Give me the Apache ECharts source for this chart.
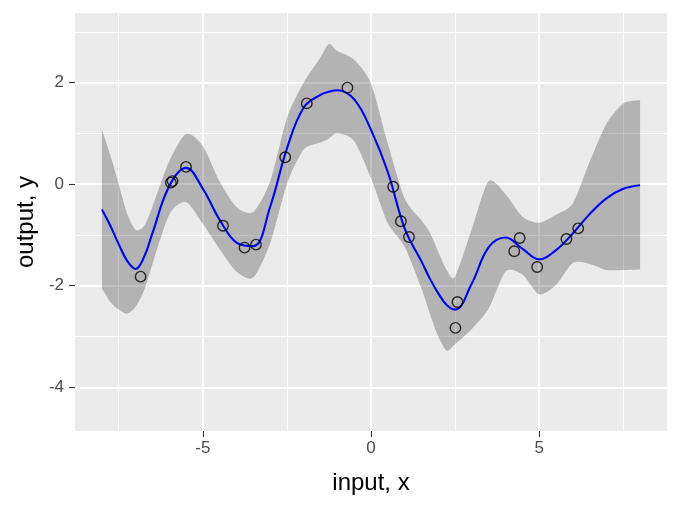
<!DOCTYPE html>
<html><head><meta charset="utf-8">
<script src="https://cdn.jsdelivr.net/npm/echarts@6/dist/echarts.min.js"></script>
<style>html,body{margin:0;padding:0;background:#fff}#c{width:680px;height:510px}</style>
</head><body><div id="c"></div>
<script>
// grid of inputs where the posterior is summarised
const xGrid = [-8, -7.75, -7.5, -7.25, -7, -6.75, -6.5, -6, -5.5, -5, -4.5, -4, -3.5, -3, -2.5, -2, -1.5, -1.25, -1, -0.5, 0, 0.5, 1, 1.5, 1.75, 2, 2.25, 2.5, 3, 3.5, 4, 4.5, 5, 5.5, 6, 6.5, 7, 7.5, 8];
// posterior mean
const meanY = [-0.50, -0.82, -1.18, -1.51, -1.67, -1.44, -0.97, -0.04, 0.32, -0.09, -0.70, -1.15, -1.22, -0.45, 0.70, 1.51, 1.76, 1.82, 1.85, 1.67, 1.07, 0.24, -0.87, -1.52, -1.86, -2.15, -2.38, -2.47, -1.95, -1.24, -1.05, -1.27, -1.48, -1.30, -0.97, -0.59, -0.28, -0.09, -0.02];
// lower and upper band
const lowerY = [-2.05, -2.32, -2.47, -2.55, -2.42, -2.10, -1.58, -0.60, -0.35, -0.78, -1.28, -1.72, -1.84, -1.17, 0.00, 0.68, 0.82, 0.90, 1.00, 0.85, 0.12, -0.77, -1.23, -2.05, -2.55, -3.00, -3.28, -3.15, -2.85, -2.45, -1.72, -1.78, -2.17, -1.98, -1.55, -1.57, -1.69, -1.69, -1.68];
const upperY = [1.08, 0.57, 0.00, -0.58, -0.90, -0.83, -0.45, 0.45, 0.99, 0.75, 0.05, -0.45, -0.55, 0.05, 1.30, 2.00, 2.50, 2.76, 2.62, 2.45, 1.98, 0.80, -0.28, -0.71, -0.95, -1.33, -1.69, -1.82, -0.88, 0.06, -0.20, -0.64, -0.76, -0.60, -0.38, 0.44, 1.19, 1.59, 1.65];
// observations
const obsX = [-6.85, -5.95, -5.90, -5.50, -4.40, -3.76, -3.42, -2.55, -1.91, -0.70, 0.66, 0.89, 1.13, 2.57, 2.51, 4.26, 4.42, 4.94, 5.81, 6.16];
const obsY = [-1.82, 0.03, 0.06, 0.34, -0.82, -1.25, -1.19, 0.53, 1.59, 1.90, -0.05, -0.73, -1.04, -2.32, -2.83, -1.32, -1.06, -1.63, -1.08, -0.87];
// axis ticks
const xMajorTicks = [-5, 0, 5];
const xMinorTicks = [-7.5, -2.5, 2.5, 7.5];
const yMajorTicks = [-4, -2, 0, 2];
const yMinorTicks = [-3, -1, 1, 3];

const chart = echarts.init(document.getElementById('c'), null, {renderer: 'canvas'});
const font = 'Liberation Sans, Arial, sans-serif';
const xMin = -8.8, xMax = 8.8, yMin = -4.86, yMax = 3.37;

const majorAxis = (isX, ticks, name) => ({
  type: 'value', min: isX ? xMin : yMin, max: isX ? xMax : yMax,
  name: name, nameLocation: 'middle', nameGap: isX ? 40 : 37,
  nameTextStyle: {color: '#000', fontSize: 24, fontFamily: font},
  axisLine: {show: false, onZero: false},
  axisTick: {show: true, customValues: ticks, length: 6, lineStyle: {color: '#333', width: 1.1}},
  axisLabel: {show: true, customValues: ticks, color: '#4D4D4D', fontSize: 17, fontFamily: font, margin: isX ? 9 : 11},
  splitLine: {show: true, lineStyle: {color: '#fff', width: 2.1}},
  minorSplitLine: {show: false}
});
const minorAxis = (isX, ticks) => ({
  type: 'value', min: isX ? xMin : yMin, max: isX ? xMax : yMax,
  position: isX ? 'bottom' : 'left',
  axisLine: {show: false, onZero: false},
  axisTick: {show: false, customValues: ticks},
  axisLabel: {show: false, customValues: ticks},
  splitLine: {show: true, lineStyle: {color: '#fff', width: 1.05}}
});

const zip = (a, b) => a.map((v, i) => [v, b[i]]);
const bandData = xGrid.map((x, i) => [x, lowerY[i], upperY[i]]);

// Catmull-Rom through pixel points -> cubic bezier path segments
function smoothSeg(p, start) {
  let d = start ? `M${p[0][0]},${p[0][1]}` : `L${p[0][0]},${p[0][1]}`;
  for (let i = 0; i < p.length - 1; i++) {
    const p0 = p[Math.max(i - 1, 0)], p1 = p[i], p2 = p[i + 1], p3 = p[Math.min(i + 2, p.length - 1)];
    const t = 0.75 / 6;
    const c1 = [p1[0] + (p2[0] - p0[0]) * t, p1[1] + (p2[1] - p0[1]) * t];
    const c2 = [p2[0] - (p3[0] - p1[0]) * t, p2[1] - (p3[1] - p1[1]) * t];
    d += `C${c1[0]},${c1[1]} ${c2[0]},${c2[1]} ${p2[0]},${p2[1]}`;
  }
  return d;
}

chart.setOption({
  animation: false,
  backgroundColor: '#fff',
  grid: {left: 75, right: 13, top: 13, bottom: 79, show: true, backgroundColor: '#EBEBEB', borderWidth: 0, containLabel: false},
  xAxis: [majorAxis(true, xMajorTicks, 'input, x'), minorAxis(true, xMinorTicks)],
  yAxis: [majorAxis(false, yMajorTicks, 'output, y'), minorAxis(false, yMinorTicks)],
  series: [
    {type: 'custom', data: bandData, encode: {x: 0, y: [1, 2]}, z: 2, silent: true,
     renderItem: (params, api) => {
       if (params.dataIndex !== 0) return null;
       const up = bandData.map(r => api.coord([r[0], r[2]]));
       const lo = bandData.map(r => api.coord([r[0], r[1]])).reverse();
       const d = smoothSeg(up, true) + smoothSeg(lo, false) + 'Z';
       return {type: 'path', shape: {pathData: d}, style: {fill: 'rgba(0,0,0,0.24)'}};
     }},
    {type: 'line', data: zip(xGrid, meanY), symbol: 'none', smooth: 0.4,
     lineStyle: {color: '#0000FF', width: 2.1}, z: 3},
    {type: 'scatter', data: zip(obsX, obsY), symbol: 'circle', symbolSize: 10.5,
     itemStyle: {color: 'rgba(0,0,0,0)', borderColor: '#000', borderWidth: 1.4}, z: 4}
  ]
});
</script></body></html>
